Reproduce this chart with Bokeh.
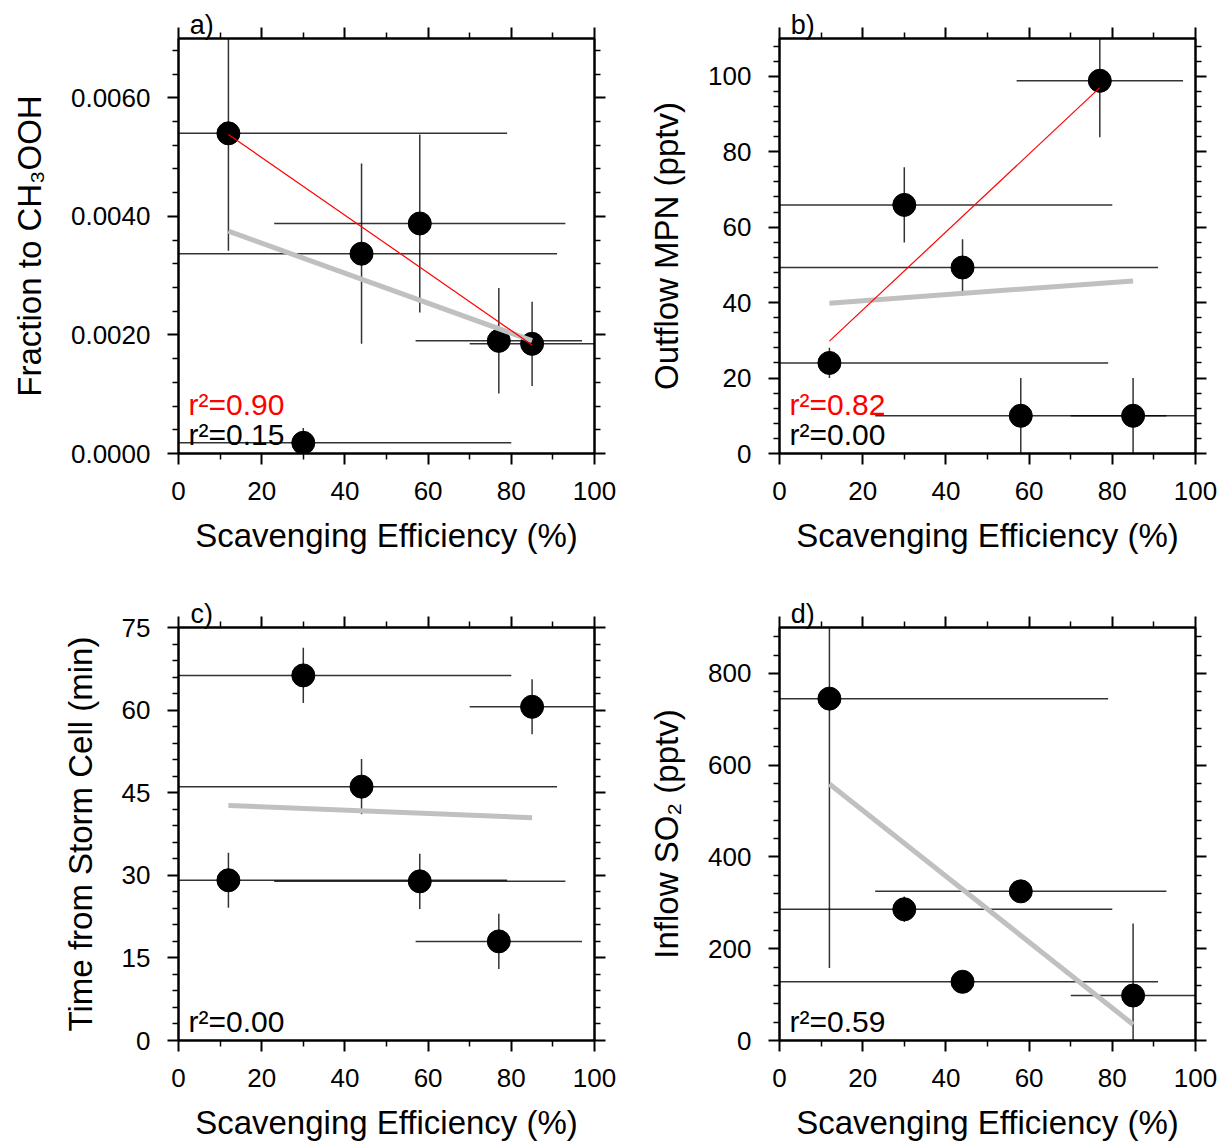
import numpy as np
from bokeh.plotting import figure
from bokeh.models import (LinearAxis, FixedTicker, Label, Range1d,
                          CustomJSTickFormatter, PrintfTickFormatter, ColumnDataSource)
from bokeh.layouts import gridplot
from bokeh.embed import file_html
from bokeh.resources import INLINE

# ---------------- data ----------------
scav_eff = [12, 30, 44, 58, 77, 85]            # Scavenging efficiency (%)
scav_eff_err = [67, 50, 47, 35, 20, 15]        # +/- uncertainty (%)

frac_ch3ooh = [0.00540, 0.00018, 0.00337, 0.00388, 0.00190, 0.00185]
frac_ch3ooh_err = [0.00198, 0.00025, 0.00152, 0.00150, 0.00089, 0.00071]

outflow_mpn = [24.0, 65.9, 49.3, 10.0, 98.8, 10.0]
outflow_mpn_err = [4.0, 10.0, 7.5, 10.0, 15.0, 10.0]

time_from_cell = [29.1, 66.3, 46.1, 28.9, 18.0, 60.6]
time_from_cell_err = [5.0, 5.0, 5.0, 5.0, 5.0, 5.0]

inflow_so2 = [745, 286, 128, 325, None, 98]
inflow_so2_err = [587, 28, 15, 15, None, 157]

r2_all = ["0.15", "0.00", "0.00", "0.59"]
r2_subset = ["0.90", "0.82", None, None]
subset_excluded = [[1], [3, 5], None, None]     # indices left out of the red fit
panel_tags = ["a)", "b)", "c)", "d)"]
y_titles = ["Fraction to CH\u2083OOH", "Outflow MPN (pptv)",
            "Time from Storm Cell (min)", "Inflow SO\u2082 (pptv)"]
x_title = "Scavenging Efficiency (%)"
x_major = [0, 20, 40, 60, 80, 100]

FONT = "Liberation Sans"


def style_axis(ax, major, minor, fmt=None, labels=True):
    ax.ticker = FixedTicker(ticks=major, minor_ticks=minor)
    ax.axis_line_color = "black"
    ax.axis_line_width = 2
    ax.major_tick_line_color = "black"
    ax.major_tick_line_width = 2
    ax.minor_tick_line_color = "black"
    ax.minor_tick_line_width = 1.5
    ax.major_tick_in = 0
    ax.major_tick_out = 11
    ax.minor_tick_in = 0
    ax.minor_tick_out = 6
    if labels:
        if fmt is not None:
            ax.formatter = fmt
        ax.major_label_text_font = FONT
        ax.major_label_text_font_size = "26px"
        ax.major_label_text_color = "black"
        ax.major_label_standoff = 17
        ax.axis_label_text_font = FONT
        ax.axis_label_text_font_size = "33px"
        ax.axis_label_text_font_style = "normal"
        ax.axis_label_text_color = "black"
    else:
        ax.formatter = CustomJSTickFormatter(code="return ''")
        ax.major_label_text_font_size = "1px"
        ax.major_label_standoff = 0


def panel(k, y, yerr, ylim, ymajor, yminor, yfmt, width, height, bl, br, bt, bb):
    idx = [i for i in range(len(scav_eff)) if y[i] is not None]
    x = np.array([scav_eff[i] for i in idx], float)
    xe = np.array([scav_eff_err[i] for i in idx], float)
    yy = np.array([y[i] for i in idx], float)
    ye = np.array([yerr[i] for i in idx], float)

    p = figure(width=width, height=height, x_range=Range1d(0, 100),
               y_range=Range1d(*ylim), output_backend="svg",
               toolbar_location=None, title=None,
               min_border_left=bl, min_border_right=br,
               min_border_top=bt, min_border_bottom=bb)
    p.xgrid.visible = False
    p.ygrid.visible = False
    p.outline_line_color = "black"
    p.outline_line_width = 2
    p.background_fill_color = "white"
    p.border_fill_color = "white"

    style_axis(p.xaxis[0], x_major, [10, 30, 50, 70, 90])
    p.xaxis[0].axis_label = x_title
    p.xaxis[0].axis_label_standoff = 14
    style_axis(p.yaxis[0], ymajor, yminor, yfmt)
    p.yaxis[0].axis_label = y_titles[k]
    p.yaxis[0].axis_label_standoff = 20

    top = LinearAxis()
    style_axis(top, x_major, [10, 30, 50, 70, 90], labels=False)
    p.add_layout(top, "above")
    right = LinearAxis()
    style_axis(right, ymajor, yminor, labels=False)
    p.add_layout(right, "right")

    # panel tag "a)" etc. drawn as the label of an invisible outer top axis
    tag_axis = LinearAxis(ticker=FixedTicker(ticks=[5.6], minor_ticks=[]),
                          formatter=CustomJSTickFormatter(code="return '%s'" % panel_tags[k]))
    tag_axis.axis_line_color = None
    tag_axis.major_tick_line_color = None
    tag_axis.minor_tick_line_color = None
    tag_axis.major_tick_in = 0
    tag_axis.major_tick_out = 0
    tag_axis.minor_tick_in = 0
    tag_axis.minor_tick_out = 0
    tag_axis.major_label_standoff = -12
    tag_axis.major_label_text_font = FONT
    tag_axis.major_label_text_font_size = "27px"
    tag_axis.major_label_text_color = "black"
    p.add_layout(tag_axis, "above")

    src = ColumnDataSource(dict(x=x, y=yy, xl=x - xe, xh=x + xe,
                                yl=yy - ye, yh=yy + ye))
    p.segment(x0="xl", y0="y", x1="xh", y1="y", source=src,
              line_color="black", line_alpha=0.8, line_width=1.5)
    p.segment(x0="x", y0="yl", x1="x", y1="yh", source=src,
              line_color="black", line_alpha=0.8, line_width=1.5)
    p.scatter("x", "y", source=src, marker="circle", size=23,
              fill_color="black", line_color="black")

    m, b = np.polyfit(x, yy, 1)
    xs = np.array([x.min(), x.max()])
    p.line(xs, m * xs + b, line_color="#c0c0c0", line_width=5)

    if subset_excluded[k] is not None:
        keep = [j for j, i in enumerate(idx) if i not in subset_excluded[k]]
        xk, yk = x[keep], yy[keep]
        m2, b2 = np.polyfit(xk, yk, 1)
        xs2 = np.array([xk.min(), xk.max()])
        p.line(xs2, m2 * xs2 + b2, line_color="red", line_width=1.2)

    y0, y1 = ylim
    fh = 415.0
    p.add_layout(Label(x=2.4, y=y0 + (19 / fh) * (y1 - y0),
                       text="r\u00b2=" + r2_all[k], text_font=FONT,
                       text_font_size="30px", text_color="black",
                       text_baseline="alphabetic", level="overlay"))
    if r2_subset[k] is not None:
        p.add_layout(Label(x=2.4, y=y0 + (49 / fh) * (y1 - y0),
                           text="r\u00b2=" + r2_subset[k], text_font=FONT,
                           text_font_size="30px", text_color="red",
                           text_baseline="alphabetic", level="overlay"))
    return p


def minors(lo, hi, step, major):
    vals = []
    n = int(round((hi - lo) / step))
    for i in range(n + 1):
        t = lo + i * step
        if all(abs(t - mj) > step * 1e-3 for mj in major):
            vals.append(round(t, 10))
    return vals


ya_major = [0, 0.002, 0.004, 0.006]
yb_major = [0, 20, 40, 60, 80, 100]
yc_major = [0, 15, 30, 45, 60, 75]
yd_major = [0, 200, 400, 600, 800]

pa = panel(0, frac_ch3ooh, frac_ch3ooh_err, (0, 0.007), ya_major,
           minors(0, 0.007, 0.0004, ya_major), PrintfTickFormatter(format="%.4f"),
           630, 589, 178, 36, 38, 136)
pb = panel(1, outflow_mpn, outflow_mpn_err, (0, 110), yb_major,
           minors(0, 110, 4, yb_major), PrintfTickFormatter(format="%d"),
           589, 589, 149, 24, 38, 136)
pc = panel(2, time_from_cell, time_from_cell_err, (0, 75), yc_major,
           minors(0, 75, 3, yc_major), PrintfTickFormatter(format="%d"),
           630, 554, 178, 36, 38, 101)
pd = panel(3, inflow_so2, inflow_so2_err, (0, 900), yd_major,
           minors(0, 900, 40, yd_major), PrintfTickFormatter(format="%d"),
           589, 554, 149, 24, 38, 101)

grid = gridplot([[pa, pb], [pc, pd]], toolbar_location=None)
open("out.html", "w").write(file_html(grid, INLINE))
